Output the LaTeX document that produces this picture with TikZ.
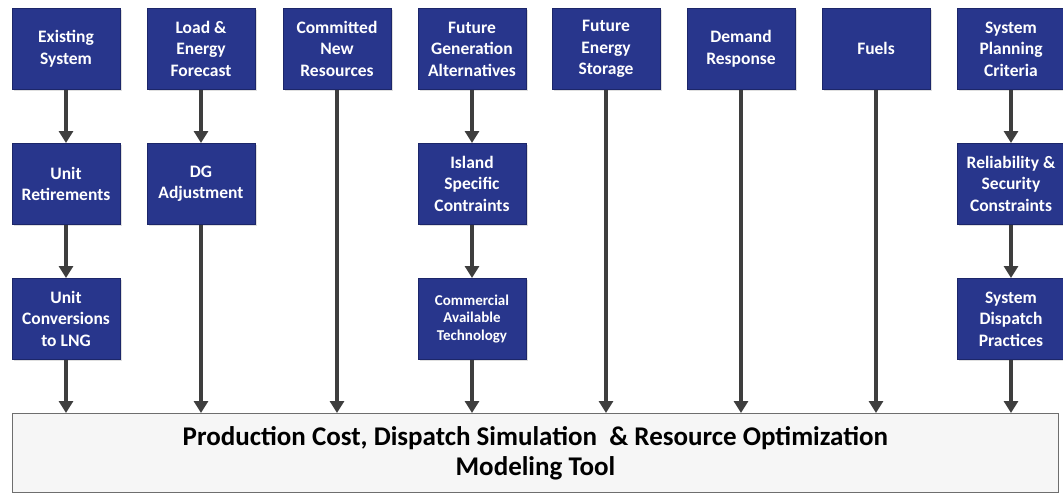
\documentclass[tikz,border=0pt]{standalone}
\usepackage{fontspec}
\setmainfont{Carlito}
\usetikzlibrary{arrows.meta,shadows}
\definecolor{boxblue}{RGB}{40,54,140}
\definecolor{boxedge}{RGB}{28,38,105}
\definecolor{arrowgray}{RGB}{62,62,62}
\definecolor{toolfill}{RGB}{246,246,246}
\definecolor{tooledge}{RGB}{110,110,110}
\begin{document}
\begin{tikzpicture}[x=1pt,y=-1pt,
  bluebox/.style={draw=boxedge, line width=0.8pt, fill=boxblue, text=white,
    font=\bfseries\fontsize{17.5}{21.5}\selectfont, align=center,
    minimum width=108pt, minimum height=81pt, inner sep=0pt, anchor=north,
    drop shadow={opacity=0.25, shadow xshift=1.5pt, shadow yshift=-1.5pt}},
  smalltext/.style={font=\bfseries\fontsize{15}{17.5}\selectfont},
  toolbox/.style={draw=tooledge, line width=0.8pt, fill=toolfill, text=black,
    font=\bfseries\fontsize{27}{30}\selectfont, align=center,
    minimum width=1046pt, minimum height=79pt, inner sep=0pt, anchor=north west},
  conn/.style={draw=arrowgray, line width=3.7pt, -{Triangle[width=14pt,length=12pt]}}
]
\useasboundingbox (0,0) rectangle (1063,493);
\fill[white] (0,0) rectangle (1063,493);

% top row
\node[bluebox] (es) at (66,8) {Existing\\System};
\node[bluebox] (lf) at (201,8) {Load \&\\Energy\\Forecast};
\node[bluebox] (cn) at (337,8) {Committed\\New\\Resources};
\node[bluebox] (fg) at (472,8) {Future\\Generation\\Alternatives};
\node[bluebox] (fs) at (606,8) {Future\\Energy\\Storage};
\node[bluebox] (dr) at (741,8) {Demand\\Response};
\node[bluebox] (fu) at (876,8) {Fuels};
\node[bluebox] (sp) at (1011,8) {System\\Planning\\Criteria};

% second row
\node[bluebox] (ur) at (66,143) {Unit\\Retirements};
\node[bluebox] (dg) at (201,143) {DG\\Adjustment};
\node[bluebox] (is) at (472,143) {Island\\Specific\\Contraints};
\node[bluebox] (rs) at (1011,143) {Reliability \&\\Security\\Constraints};

% third row
\node[bluebox] (uc) at (66,278) {Unit\\Conversions\\to LNG};
\node[bluebox, smalltext] (ca) at (472,278) {Commercial\\Available\\Technology};
\node[bluebox] (sd) at (1011,278) {System\\Dispatch\\Practices};

% bottom tool
\node[toolbox] (tool) at (12,413) {Production Cost, Dispatch Simulation\ \ \& Resource Optimization\\Modeling Tool};

% connectors
\draw[conn] (es.south) -- (ur.north);
\draw[conn] (ur.south) -- (uc.north);
\draw[conn] (uc.south) -- (uc.south |- tool.north);
\draw[conn] (lf.south) -- (dg.north);
\draw[conn] (dg.south) -- (dg.south |- tool.north);
\draw[conn] (cn.south) -- (cn.south |- tool.north);
\draw[conn] (fg.south) -- (is.north);
\draw[conn] (is.south) -- (ca.north);
\draw[conn] (ca.south) -- (ca.south |- tool.north);
\draw[conn] (fs.south) -- (fs.south |- tool.north);
\draw[conn] (dr.south) -- (dr.south |- tool.north);
\draw[conn] (fu.south) -- (fu.south |- tool.north);
\draw[conn] (sp.south) -- (rs.north);
\draw[conn] (rs.south) -- (sd.north);
\draw[conn] (sd.south) -- (sd.south |- tool.north);
\end{tikzpicture}
\end{document}
